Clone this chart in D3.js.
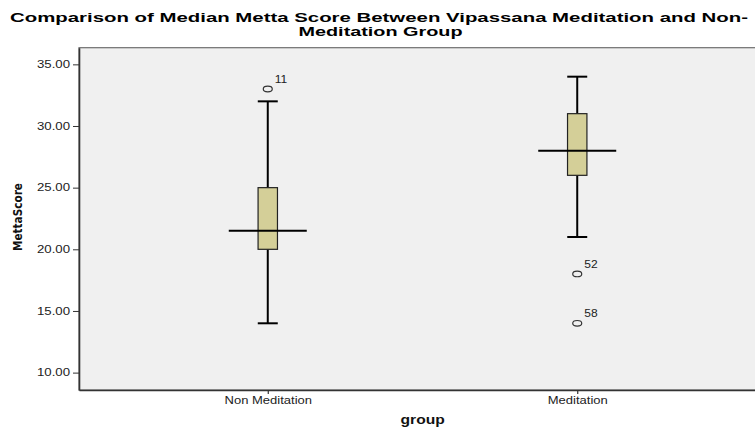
<!DOCTYPE html>
<html>
<head>
<meta charset="utf-8">
<script src="https://cdn.jsdelivr.net/npm/d3@7"></script>
<style>
  html, body { margin: 0; padding: 0; background: #ffffff; }
  svg { display: block; font-family: "Liberation Sans", Arial, sans-serif; }
</style>
</head>
<body>
<svg id="chart" width="755" height="427"></svg>
<script>
// Box-plot summaries of MettaScore per group
const groups = ["Non Meditation", "Meditation"];
const whiskerLow = [14, 21];
const q1 = [20, 26];
const median = [21.5, 28];
const q3 = [25, 31];
const whiskerHigh = [32, 34];
// Outliers: group, value, case label
const outlierGroup = ["Non Meditation", "Meditation", "Meditation"];
const outlierValue = [33, 18, 14];
const outlierCase = ["11", "52", "58"];
const yTicks = [10, 15, 20, 25, 30, 35];

const svg = d3.select("#chart");
const plot = { left: 79, right: 766, top: 47.7, bottom: 390 };

const x = d3.scalePoint().domain(groups).range([plot.left, plot.right]).padding(0.61);
const y = d3.scaleLinear().domain([8.59, 36.35]).range([plot.bottom, plot.top]);

// Stretch text horizontally to a wide, print-like look
function stretch(sel, factor) {
  sel.each(function () {
    const len = this.getComputedTextLength();
    d3.select(this).attr("textLength", len * factor).attr("lengthAdjust", "spacingAndGlyphs");
  });
}

// Plot background and frame
svg.append("rect")
  .attr("x", plot.left).attr("y", plot.top)
  .attr("width", plot.right - plot.left).attr("height", plot.bottom - plot.top)
  .attr("fill", "#f0f0f0").attr("stroke", "#6e6e6e").attr("stroke-width", 1.2);

// Title
const title = svg.append("g").attr("font-weight", "bold").attr("font-size", 13).attr("fill", "#000");
title.append("text").attr("x", 379).attr("y", 22).attr("text-anchor", "middle")
  .text("Comparison of Median Metta Score Between Vipassana Meditation and Non-")
  .call(s => s.attr("textLength", 738).attr("lengthAdjust", "spacingAndGlyphs"));
title.append("text").attr("x", 380.5).attr("y", 36).attr("text-anchor", "middle")
  .text("Meditation Group")
  .call(s => s.attr("textLength", 164).attr("lengthAdjust", "spacingAndGlyphs"));

// Y axis
const yAxis = svg.append("g")
  .attr("transform", `translate(${plot.left},0)`)
  .call(d3.axisLeft(y).tickValues(yTicks).tickFormat(d3.format(".2f"))
    .tickSizeInner(6).tickSizeOuter(0).tickPadding(3));
yAxis.select(".domain").attr("stroke", "#333").attr("stroke-width", 1.6);
yAxis.selectAll(".tick line").attr("stroke", "#333").attr("stroke-width", 1);
yAxis.selectAll(".tick text")
  .attr("font-family", "Liberation Sans, Arial, sans-serif")
  .attr("font-size", 10).attr("fill", "#222")
  .call(stretch, 1.32);

// X axis
const xAxis = svg.append("g")
  .attr("transform", `translate(0,${plot.bottom})`)
  .call(d3.axisBottom(x).tickSizeInner(4).tickSizeOuter(0).tickPadding(3));
xAxis.select(".domain").attr("stroke", "#333").attr("stroke-width", 1.6);
xAxis.selectAll(".tick line").attr("stroke", "#333").attr("stroke-width", 1.2);
xAxis.selectAll(".tick text")
  .attr("font-family", "Liberation Sans, Arial, sans-serif")
  .attr("font-size", 10).attr("fill", "#222")
  .call(stretch, 1.3);

// Axis titles
svg.append("text")
  .attr("x", 422.7).attr("y", 424).attr("text-anchor", "middle")
  .attr("font-weight", "bold").attr("font-size", 12).attr("fill", "#111")
  .text("group").call(stretch, 1.3);
svg.append("text")
  .attr("transform", "translate(22,217) rotate(-90)")
  .attr("text-anchor", "middle")
  .attr("font-family", "'Liberation Sans Narrow', 'DejaVu Sans Condensed', sans-serif")
  .attr("font-weight", "bold").attr("font-size", 13).attr("fill", "#111")
  .text("MettaScore")
  .call(s => s.attr("textLength", 68).attr("lengthAdjust", "spacingAndGlyphs"));

// Boxes
const boxHalf = 9.7, capHalf = 10, medHalf = 39;
const g = svg.append("g");
groups.forEach((grp, i) => {
  const cx = x(grp);
  // whiskers
  g.append("line").attr("x1", cx).attr("x2", cx).attr("y1", y(q3[i])).attr("y2", y(whiskerHigh[i]))
    .attr("stroke", "#000").attr("stroke-width", 2);
  g.append("line").attr("x1", cx).attr("x2", cx).attr("y1", y(q1[i])).attr("y2", y(whiskerLow[i]))
    .attr("stroke", "#000").attr("stroke-width", 2);
  [whiskerHigh[i], whiskerLow[i]].forEach(v => {
    g.append("line").attr("x1", cx - capHalf).attr("x2", cx + capHalf).attr("y1", y(v)).attr("y2", y(v))
      .attr("stroke", "#000").attr("stroke-width", 2);
  });
  // box
  g.append("rect").attr("x", cx - boxHalf).attr("y", y(q3[i]))
    .attr("width", boxHalf * 2).attr("height", y(q1[i]) - y(q3[i]))
    .attr("fill", "#d4cf98").attr("stroke", "#222").attr("stroke-width", 1.2);
  // median
  g.append("line").attr("x1", cx - medHalf).attr("x2", cx + medHalf)
    .attr("y1", y(median[i])).attr("y2", y(median[i]))
    .attr("stroke", "#000").attr("stroke-width", 2);
});

// Outliers with case labels
outlierValue.forEach((v, k) => {
  const cx = x(outlierGroup[k]), cy = y(v);
  g.append("ellipse").attr("cx", cx).attr("cy", cy).attr("rx", 4.5).attr("ry", 2.8)
    .attr("fill", "none").attr("stroke", "#333").attr("stroke-width", 1.2);
  g.append("text").attr("x", cx + 7).attr("y", cy - 6)
    .attr("font-size", 10).attr("fill", "#222")
    .text(outlierCase[k]).call(stretch, 1.2);
});
</script>
</body>
</html>
